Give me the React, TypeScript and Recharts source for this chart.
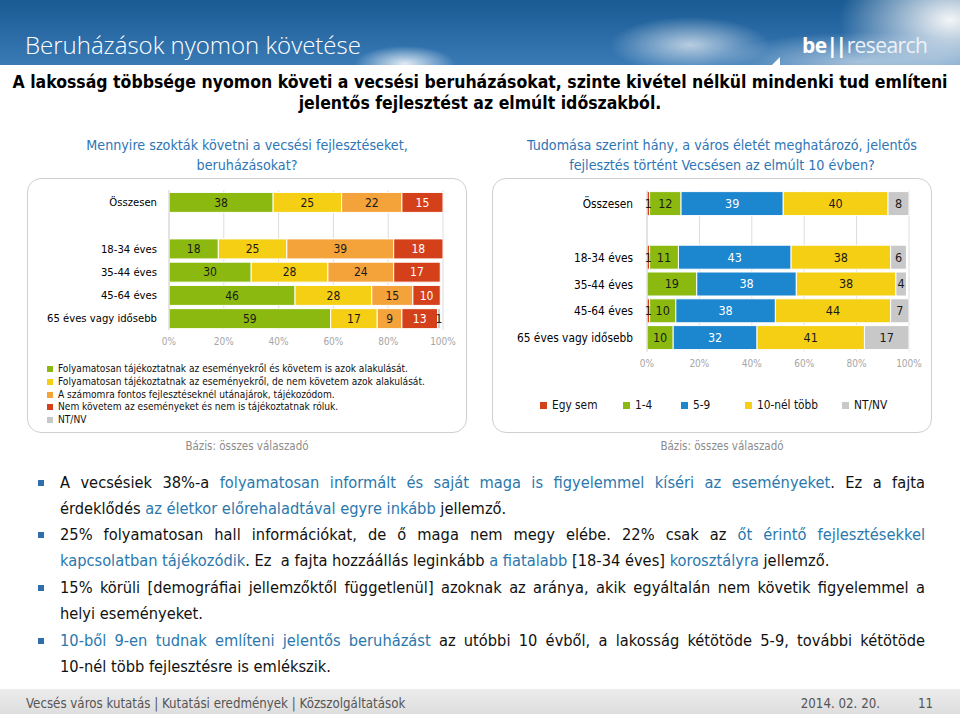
import React from "react";
import { BarChart, Bar, XAxis, YAxis, CartesianGrid, LabelList } from "recharts";

// ---------- DATA ----------
const categories = ["Összesen", "", "18-34 éves", "35-44 éves", "45-64 éves", "65 éves vagy idősebb"];

// Left chart: "Mennyire szokták követni a vecsési fejlesztéseket, beruházásokat?"
const leftSeriesNames = [
  "Folyamatosan tájékoztatnak az eseményekről és követem is azok alakulását.",
  "Folyamatosan tájékoztatnak az eseményekről, de nem követem azok alakulását.",
  "A számomra fontos fejlesztéseknél utánajárok, tájékozódom.",
  "Nem követem az eseményeket és nem is tájékoztatnak róluk.",
  "NT/NV",
];
const leftFollowAndInformed = [38, null, 18, 30, 46, 59];
const leftInformedOnly = [25, null, 25, 28, 28, 17];
const leftSeekImportant = [22, null, 39, 24, 15, 9];
const leftNotFollow = [15, null, 18, 17, 10, 13];
const leftUnknown = [0, null, 0, 0, 0, 1];

// Right chart: "Tudomása szerint hány ... fejlesztés történt Vecsésen az elmúlt 10 évben?"
const rightSeriesNames = ["Egy sem", "1-4", "5-9", "10-nél több", "NT/NV"];
const rightNone = [1, null, 1, 0, 1, 0];
const rightOneToFour = [12, null, 11, 19, 10, 10];
const rightFiveToNine = [39, null, 43, 38, 38, 32];
const rightMoreThanTen = [40, null, 38, 38, 44, 41];
const rightUnknown = [8, null, 6, 4, 7, 17];

const percentTicks = [0, 20, 40, 60, 80, 100];

// ---------- STYLE ----------
const FONT = "'DejaVu Sans Condensed', 'Liberation Sans Narrow', sans-serif";
const GREEN = "#8cb90f";
const YELLOW = "#f5cf14";
const ORANGE = "#f4a23a";
const RED = "#d4401a";
const GRAY = "#c8c8c8";
const BLUE = "#1c86cf";
const TEXT_BLUE = "#2e75b6";
const HL_BLUE = "#2a78ad";

const leftColors = [GREEN, YELLOW, ORANGE, RED, GRAY];
const leftLabelColors = ["#1a1a1a", "#1a1a1a", "#1a1a1a", "#ffffff", "#1a1a1a"];
const rightColors = [RED, GREEN, BLUE, YELLOW, GRAY];
const rightLabelColors = ["#1a1a1a", "#1a1a1a", "#ffffff", "#1a1a1a", "#1a1a1a"];
const rightLegendX = [540, 623, 681, 745, 842];

const leftData = categories.map((cat, i) => ({
  cat,
  s0: leftFollowAndInformed[i],
  s1: leftInformedOnly[i],
  s2: leftSeekImportant[i],
  s3: leftNotFollow[i],
  s4: leftUnknown[i],
}));
const rightData = categories.map((cat, i) => ({
  cat,
  s0: rightNone[i],
  s1: rightOneToFour[i],
  s2: rightFiveToNine[i],
  s3: rightMoreThanTen[i],
  s4: rightUnknown[i],
}));

const fmt = (v: any) => (v === null || v === undefined || v === 0 ? "" : String(v));

type ChartProps = {
  data: any[];
  colors: string[];
  labelColors: string[];
  names: string[];
  left: number;
  top: number;
  width: number;
  height: number;
  yWidth: number;
  marginTop: number;
  marginRight: number;
  xHeight: number;
  barSize: number;
  catFont: number;
  labelFont: number;
  tickMargin: number;
};

function StackedChart(p: ChartProps) {
  const keys = ["s0", "s1", "s2", "s3", "s4"];
  return (
    <div style={{ position: "absolute", left: p.left, top: p.top }}>
      <BarChart
        width={p.width}
        height={p.height}
        data={p.data}
        layout="vertical"
        margin={{ top: p.marginTop, right: p.marginRight, bottom: 0, left: 0 }}
        barCategoryGap={0}
      >
        <CartesianGrid horizontal={false} stroke="#dcdcdc" />
        <XAxis
          type="number"
          domain={[0, 100]}
          ticks={percentTicks}
          tickFormatter={(v: number) => v + "%"}
          axisLine={false}
          tickLine={false}
          height={p.xHeight}
          tick={{ fontSize: 10, fill: "#a6a6a6", fontFamily: FONT }}
          interval={0}
        />
        <YAxis
          type="category"
          dataKey="cat"
          width={p.yWidth}
          axisLine={{ stroke: "#d9d9d9" }}
          tickLine={false}
          tickMargin={p.tickMargin}
          interval={0}
          tick={{ fontSize: p.catFont, fill: "#000", fontFamily: FONT }}
        />
        {keys.map((k, i) => (
          <Bar
            key={k}
            dataKey={k}
            name={p.names[i]}
            stackId="a"
            fill={p.colors[i]}
            stroke="#ffffff"
            strokeWidth={1}
            barSize={p.barSize}
            isAnimationActive={false}
          >
            <LabelList
              dataKey={k}
              position="center"
              formatter={fmt}
              fill={p.labelColors[i]}
              style={{ fontSize: p.labelFont, fontFamily: FONT, fill: p.labelColors[i] }}
            />
          </Bar>
        ))}
      </BarChart>
    </div>
  );
}

const abs = (left: number, top: number, extra: any = {}) => ({ position: "absolute" as const, left, top, ...extra });

function Bullet({ top }: { top: number }) {
  return <div style={abs(38, top - 3, { width: 6, height: 6, background: "#2f6ea8" })} />;
}

const hl = (t: string) => <span style={{ color: HL_BLUE }}>{t}</span>;

function Line({ top, justify, children }: { top: number; justify?: boolean; children: any }) {
  return (
    <div
      style={abs(60, top - 13, {
        width: 865,
        height: 26,
        lineHeight: "26px",
        fontSize: 16.3,
        fontFamily: FONT,
        color: "#111",
        textAlign: justify ? "justify" : "left",
        textAlignLast: justify ? "justify" : "left",
        whiteSpace: justify ? "normal" : "nowrap",
      })}
    >
      {children}
    </div>
  );
}

export default function App() {
  return (
    <div style={{ position: "absolute", left: 0, top: 0, width: 960, height: 714, background: "#fff", overflow: "hidden", fontFamily: FONT }}>
      {/* header banner */}
      <div
        style={abs(0, 0, {
          width: 960,
          height: 65,
          background:
            "radial-gradient(ellipse 50px 18px at 405px 64px, rgba(255,255,255,0.85), rgba(255,255,255,0) 100%)," +
            "radial-gradient(ellipse 80px 28px at 690px 45px, rgba(230,236,242,0.75), rgba(255,255,255,0) 100%)," +
            "radial-gradient(ellipse 110px 70px at 950px 20px, rgba(245,246,247,1), rgba(255,255,255,0) 100%)," +
            "radial-gradient(ellipse 140px 30px at 860px 62px, rgba(215,225,235,0.7), rgba(255,255,255,0) 100%)," +
            "linear-gradient(180deg, #1a5b93 0%, #2868a3 45%, #3a7bb6 100%)",
        })}
      />
      <div style={abs(25, 30, { color: "#fff", fontSize: 24, fontFamily: "'Open Sans', sans-serif", fontWeight: 300, lineHeight: "30px", whiteSpace: "nowrap" })}>
        Beruházások nyomon követése
      </div>
      <div style={abs(802, 31, { color: "#fff", fontSize: 21, fontFamily: "'Open Sans', sans-serif", lineHeight: "28px", whiteSpace: "nowrap", letterSpacing: -0.6 })}>
        <span style={{ fontWeight: 700 }}>be</span>
        <span style={{ fontWeight: 700, letterSpacing: -2.5 }}>||</span>
        <span style={{ fontWeight: 400, color: "#eef2f6", marginLeft: 2 }}>research</span>
      </div>
      <div style={abs(772, 57, { width: 0, height: 0, borderLeft: "8px solid transparent", borderBottom: "8px solid #fff" })} />

      {/* subtitle */}
      <div style={abs(0, 72, { width: 960, textAlign: "center", fontWeight: 700, fontSize: 17.5, lineHeight: "21px", color: "#000", whiteSpace: "nowrap" })}>
        A lakosság többsége nyomon követi a vecsési beruházásokat, szinte kivétel nélkül mindenki tud említeni
        <br />
        jelentős fejlesztést az elmúlt időszakból.
      </div>

      {/* questions */}
      <div style={abs(27, 135, { width: 440, textAlign: "center", color: TEXT_BLUE, fontSize: 14.2, lineHeight: "20px", whiteSpace: "nowrap" })}>
        Mennyire szokták követni a vecsési fejlesztéseket,
        <br />
        beruházásokat?
      </div>
      <div style={abs(492, 135, { width: 460, textAlign: "center", color: TEXT_BLUE, fontSize: 14.2, lineHeight: "20px", whiteSpace: "nowrap" })}>
        Tudomása szerint hány, a város életét meghatározó, jelentős
        <br />
        fejlesztés történt Vecsésen az elmúlt 10 évben?
      </div>

      {/* boxes */}
      <div style={abs(27, 178, { width: 438, height: 253, border: "1.5px solid #cfcfcf", borderRadius: 14 })} />
      <div style={abs(492, 178, { width: 438, height: 253, border: "1.5px solid #cfcfcf", borderRadius: 14 })} />

      <StackedChart
        data={leftData}
        colors={leftColors}
        labelColors={leftLabelColors}
        names={leftSeriesNames}
        left={0}
        top={180}
        width={480}
        height={180}
        yWidth={169}
        marginTop={10.4}
        marginRight={37}
        xHeight={30.1}
        barSize={20}
        catFont={11.2}
        labelFont={12}
        tickMargin={6}
      />
      <StackedChart
        data={rightData}
        colors={rightColors}
        labelColors={rightLabelColors}
        names={rightSeriesNames}
        left={480}
        top={180}
        width={450}
        height={200}
        yWidth={167}
        marginTop={10.6}
        marginRight={21}
        xHeight={28.6}
        barSize={24}
        catFont={11.8}
        labelFont={12.5}
        tickMargin={8}
      />

      {/* left legend */}
      {leftSeriesNames.map((n, i) => (
        <div key={n} style={abs(47, 362 + i * 12.8, { height: 13, lineHeight: "13px", fontSize: 10.1, whiteSpace: "nowrap", color: "#111" })}>
          <span style={{ display: "inline-block", width: 6, height: 6, background: leftColors[i], marginRight: 5, verticalAlign: "0px" }} />
          {n}
        </div>
      ))}
      {/* right legend */}
      {rightSeriesNames.map((n, i) => (
        <div key={n} style={abs(rightLegendX[i], 397, { height: 16, lineHeight: "16px", fontSize: 11.8, whiteSpace: "nowrap", color: "#111" })}>
          <span style={{ display: "inline-block", width: 7, height: 7, background: rightColors[i], marginRight: 5, verticalAlign: "0px" }} />
          {n}
        </div>
      ))}

      {/* basis */}
      <div style={abs(27, 438, { width: 440, textAlign: "center", color: "#8c8c8c", fontSize: 11.5, lineHeight: "16px" })}>Bázis: összes válaszadó</div>
      <div style={abs(492, 438, { width: 460, textAlign: "center", color: "#8c8c8c", fontSize: 11.5, lineHeight: "16px" })}>Bázis: összes válaszadó</div>

      {/* bullets */}
      <Bullet top={483} />
      <Line top={483} justify>
        A vecsésiek 38%-a {hl("folyamatosan informált és saját maga is figyelemmel kíséri az eseményeket")}. Ez a fajta
      </Line>
      <Line top={509}>
        érdeklődés {hl("az életkor előrehaladtával egyre inkább")} jellemző.
      </Line>
      <Bullet top={535} />
      <Line top={535} justify>
        25% folyamatosan hall információkat, de ő maga nem megy elébe. 22% csak az {hl("őt érintő fejlesztésekkel")}
      </Line>
      <Line top={561}>
        {hl("kapcsolatban tájékozódik")}. Ez&nbsp; a fajta hozzáállás leginkább {hl("a fiatalabb")} [18-34 éves] {hl("korosztályra")} jellemző.
      </Line>
      <Bullet top={588} />
      <Line top={588} justify>
        15% körüli [demográfiai jellemzőktől függetlenül] azoknak az aránya, akik egyáltalán nem követik figyelemmel a
      </Line>
      <Line top={614}>helyi eseményeket.</Line>
      <Bullet top={641} />
      <Line top={641} justify>
        {hl("10-ből 9-en tudnak említeni jelentős beruházást")} az utóbbi 10 évből, a lakosság kétötöde 5-9, további kétötöde
      </Line>
      <Line top={667}>10-nél több fejlesztésre is emlékszik.</Line>

      {/* footer */}
      <div style={abs(0, 689, { width: 960, height: 25, background: "linear-gradient(180deg, #ececec 0%, #dedede 100%)" })} />
      <div style={abs(26, 695, { fontSize: 13.2, lineHeight: "18px", color: "#555", whiteSpace: "nowrap" })}>
        Vecsés város kutatás | Kutatási eredmények | Közszolgáltatások
      </div>
      <div style={abs(780, 695, { width: 100, textAlign: "right", fontSize: 13.2, lineHeight: "18px", color: "#555", whiteSpace: "nowrap" })}>2014. 02. 20.</div>
      <div style={abs(900, 695, { width: 33, textAlign: "right", fontSize: 13.2, lineHeight: "18px", color: "#555", whiteSpace: "nowrap" })}>11</div>
    </div>
  );
}
